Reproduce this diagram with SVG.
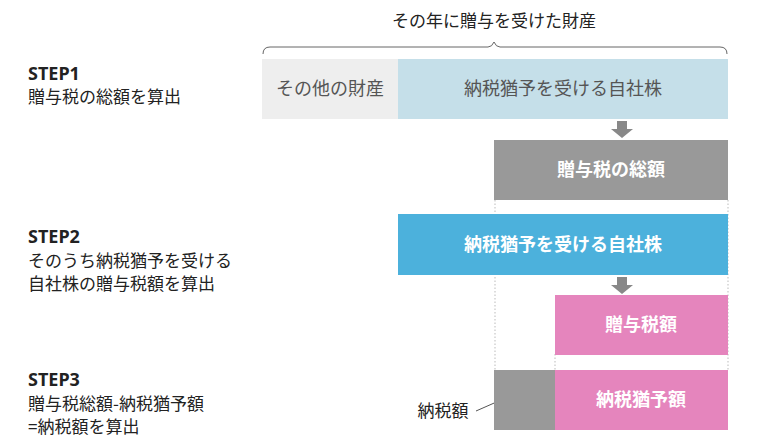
<svg xmlns="http://www.w3.org/2000/svg" width="774" height="446" viewBox="0 0 774 446">
<style>
text{font-family:"Noto Sans CJK JP","Noto Sans",sans-serif}
.lbl{font-size:17px;fill:#222}
.step{font-size:18px;font-weight:bold;fill:#222;font-family:"Noto Sans","Noto Sans CJK JP",sans-serif}
.w{font-size:18px;font-weight:bold;fill:#fff;text-anchor:middle}
.g{font-size:18px;fill:#555;text-anchor:middle}
.dot{stroke:#bbb;stroke-width:1;stroke-dasharray:1.5 2;fill:none}
</style>
<rect width="774" height="446" fill="#fff"/>
<text x="494" y="27" text-anchor="middle" class="lbl">その年に贈与を受けた財産</text>
<path d="M263 54 Q263 47 270 47 L488 47 Q492 47 494 42 Q496 47 500 47 L720 47 Q727 47 727 54" fill="none" stroke="#666" stroke-width="1"/>
<text x="28" y="80" class="step">STEP1</text>
<text x="28" y="103" class="lbl">贈与税の総額を算出</text>
<text x="28" y="243" class="step">STEP2</text>
<text x="28" y="267" class="lbl">そのうち納税猶予を受ける</text>
<text x="28" y="290" class="lbl">自社株の贈与税額を算出</text>
<text x="28" y="386" class="step">STEP3</text>
<text x="28" y="410" class="lbl">贈与税総額-納税猶予額</text>
<text x="28" y="433" class="lbl">=納税額を算出</text>
<g id="connectors">
<path class="dot" d="M495 200V370M728 200V370M555 354V370"/>
<path d="M617 121h10v8h6l-11 9-11-9h6z" fill="#888"/>
<path d="M617 277h10v8h6l-11 9-11-9h6z" fill="#888"/>
<path d="M476 411 L517 393" stroke="#555" stroke-width="1"/>
</g>
<g id="other"><rect x="262" y="59" width="136" height="60" fill="#eeeeee"/><text x="330" y="95" class="g">その他の財産</text></g>
<g id="stock1"><rect x="398" y="59" width="330" height="60" fill="#c5dfe9"/><text x="563" y="95" class="g">納税猶予を受ける自社株</text></g>
<g id="total"><rect x="494" y="140" width="234" height="60" fill="#999"/><text x="611" y="176" class="w">贈与税の総額</text></g>
<g id="stock2"><rect x="398" y="214" width="330" height="61" fill="#4cb1dc"/><text x="563" y="251" class="w">納税猶予を受ける自社株</text></g>
<g id="tax"><rect x="555" y="295" width="173" height="60" fill="#e585bd"/><text x="641" y="331" class="w">贈与税額</text></g>
<g id="paid"><rect x="494" y="370" width="61" height="60" fill="#999"/><text x="443" y="417" text-anchor="middle" class="lbl">納税額</text></g>
<g id="deferred"><rect x="555" y="370" width="173" height="60" fill="#e585bd"/><text x="641" y="406" class="w">納税猶予額</text></g>
</svg>
